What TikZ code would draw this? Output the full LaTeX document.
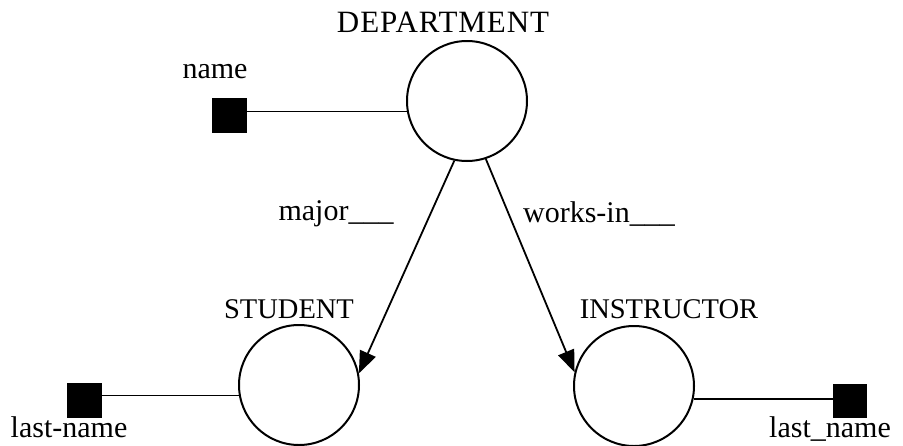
\documentclass[tikz,border=0pt]{standalone}
\usepackage{fontspec}
\setmainfont{Liberation Serif}
\usetikzlibrary{arrows.meta}
\begin{document}
\begin{tikzpicture}[x=1pt,y=-1pt,
  ent/.style={circle,draw,line width=2pt,minimum size=120pt,inner sep=0pt},
  attr/.style={fill=black,minimum size=35pt,inner sep=0pt},
  lbl/.style={anchor=base,inner sep=0pt,font=\fontsize{30}{36}\selectfont},
  slbl/.style={anchor=base,inner sep=0pt,font=\fontsize{28.5}{34}\selectfont},
  link/.style={line width=1.8pt},
  rel/.style={line width=1.8pt,-{Triangle[length=22pt,width=17pt]}}]
\useasboundingbox (0,0) rectangle (903,445);
\node[ent] (dept) at (467,101) {};
\node[ent] (stu) at (299,385) {};
\node[ent] (ins) at (634,386) {};
\node[attr] (nsq) at (229,115) {};
\node[attr] (lsq) at (84,400) {};
\node[attr,minimum size=34pt] (rsq) at (850,401) {};
\node[lbl,font=\fontsize{31}{37}\selectfont] (tdept) at (443,32) {\addfontfeature{LetterSpace=3}DEPARTMENT};
\node[lbl] (tname) at (215,78) {name};
\node[slbl] (tstu) at (289,318) {STUDENT};
\node[slbl] (tins) at (669,318) {INSTRUCTOR};
\node[lbl] (tlast1) at (69,437) {last-name};
\node[lbl] (tlast2) at (830,437) {last\_name};
\node[lbl] (tmajor) at (336,220) {major\_\_\_};
\node[lbl] (tworks) at (599,222) {works-in\_\_\_};
\draw[link] (dept.190) -- (dept.190 -| nsq.east);
\draw[link] (stu.190) -- (stu.190 -| lsq.east);
\draw[link] (ins.348) -- (ins.348 -| rsq.west);
\draw[rel] (dept.258.5) -- (stu.11.5);
\draw[rel] (dept.288.7) -- (ins.167.6);
\end{tikzpicture}
\end{document}
